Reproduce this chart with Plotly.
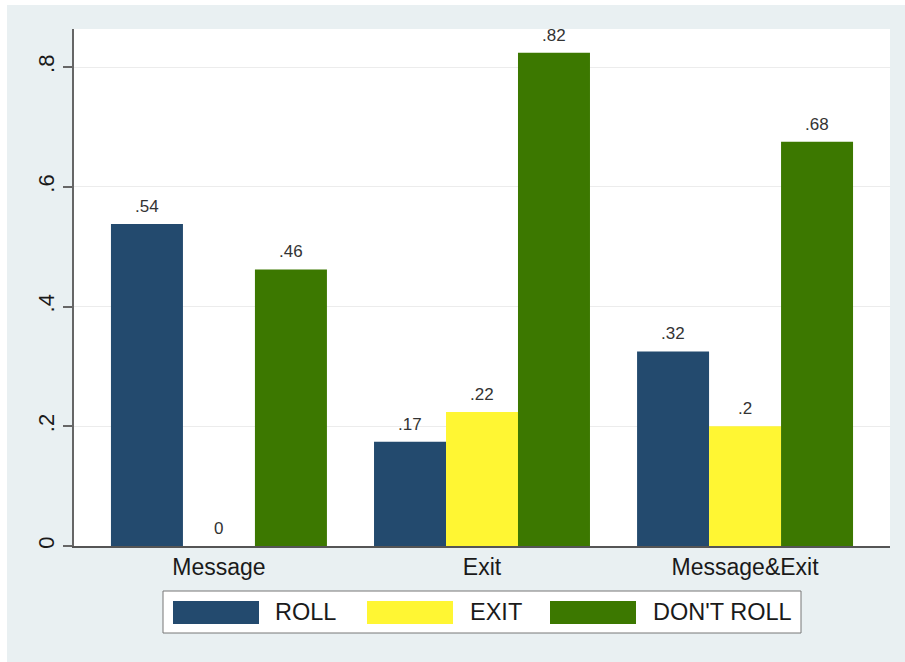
import plotly.graph_objects as go

categories = ["Message", "Exit", "Message&Exit"]
series_names = ["ROLL", "EXIT", "DON'T ROLL"]
roll = [0.538, 0.174, 0.325]
exit_ = [0.0, 0.224, 0.2]
dont_roll = [0.462, 0.824, 0.675]
label_roll = [".54", ".17", ".32"]
label_exit = ["0", ".22", ".2"]
label_dont = [".46", ".82", ".68"]
ytick_vals = [0, 0.2, 0.4, 0.6, 0.8]
ytick_text = ["0", ".2", ".4", ".6", ".8"]

colors = ["#234a6e", "#fff633", "#3c7800"]
series_values = [roll, exit_, dont_roll]
series_labels = [label_roll, label_exit, label_dont]

FONT = "Liberation Sans, Arial, sans-serif"
W, H = 905, 662
L, R, T, B = 74, 15, 29, 116
PW, PH = W - L - R, H - T - B

def px(x):
    return (x - L) / PW

def py(y):
    return (H - B - y) / PH

bargap = 0.179
fig = go.Figure()
for name, vals, col in zip(series_names, series_values, colors):
    fig.add_trace(go.Bar(x=categories, y=vals, name=name, marker_color=col,
                         marker_line_width=0, showlegend=False))

bw = (1 - bargap) / 3
annotations = []
for k, (vals, labs) in enumerate(zip(series_values, series_labels)):
    for i, (v, t) in enumerate(zip(vals, labs)):
        annotations.append(dict(x=i + (k - 1) * bw, y=v, xref="x", yref="y", text=t,
                                showarrow=False, yanchor="bottom", yshift=6,
                                font=dict(size=17, color="#333333", family=FONT)))

shapes = [
    # outer background
    dict(type="rect", xref="paper", yref="paper", x0=px(7), x1=px(905), y0=py(662), y1=py(5),
         fillcolor="#e9f0f2", line_width=0, layer="below"),
    # plot area
    dict(type="rect", xref="paper", yref="paper", x0=0, x1=1, y0=0, y1=1,
         fillcolor="white", line_width=0, layer="below"),
    # legend box
    dict(type="rect", xref="paper", yref="paper", x0=px(163), x1=px(801), y0=py(633), y1=py(591),
         fillcolor="white", line=dict(color="#777777", width=1)),
]
sw_x = [173, 367, 550]
tx_x = [273, 468, 651]
for name, col, sx, tx in zip(series_names, colors, sw_x, tx_x):
    shapes.append(dict(type="rect", xref="paper", yref="paper", x0=px(sx), x1=px(sx + 86),
                       y0=py(624), y1=py(601), fillcolor=col, line_width=0))
    annotations.append(dict(x=px(tx), y=py(612), xref="paper", yref="paper", text=name,
                            showarrow=False, xanchor="left", yanchor="middle",
                            font=dict(size=23.5, color="#1a1a1a", family=FONT)))

fig.update_layout(
    width=W, height=H,
    margin=dict(l=L, r=R, t=T, b=B),
    paper_bgcolor="white",
    plot_bgcolor="white",
    barmode="group", bargap=bargap, bargroupgap=0,
    shapes=shapes, annotations=annotations,
    font=dict(family=FONT, color="#1a1a1a"),
    xaxis=dict(range=[-0.551, 2.551], showgrid=False, showline=True, linecolor="#555555",
               linewidth=1.5, ticks="", tickfont=dict(size=23, color="#1a1a1a"),
               zeroline=False),
    yaxis=dict(range=[0, 0.8635], tickvals=ytick_vals, ticktext=ytick_text, tickangle=-90,
               showgrid=True, gridcolor="#ececec", gridwidth=1, showline=True,
               linecolor="#666666", linewidth=1.5, ticks="outside", ticklen=9,
               tickcolor="#666666", tickwidth=1.5, tickfont=dict(size=22, color="#1a1a1a"),
               zeroline=False),
)
fig.write_html("out.html", config={"displayModeBar": False},
               post_script="document.body.style.margin='0';document.body.style.padding='0';")
